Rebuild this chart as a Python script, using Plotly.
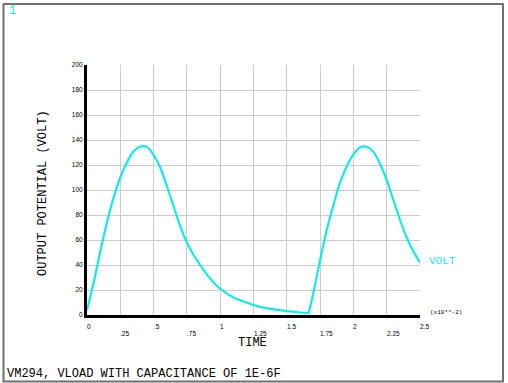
import plotly.graph_objects as go

# ---- data (time in units of 1e-2 s, output potential in volts) ----
time = [0.0, 0.05, 0.1, 0.15, 0.2, 0.25, 0.3, 0.35, 0.4, 0.45, 0.5, 0.55,
        0.6, 0.65, 0.7, 0.75, 0.8, 0.85, 0.9, 0.95, 1.0, 1.1, 1.2, 1.25, 1.3,
        1.4, 1.5, 1.6, 1.665,
        1.7, 1.75, 1.8, 1.85, 1.9, 1.95, 2.0, 2.05, 2.1, 2.15, 2.2, 2.25,
        2.3, 2.35, 2.4, 2.45, 2.5]
volt = [4, 26, 51, 74, 94, 110, 122, 131, 134.8, 134.5, 128, 118,
        103, 87, 71, 58, 48, 40, 32.5, 26, 21, 14, 10, 8, 6.5,
        4.5, 3.2, 2, 1.4,
        18, 44, 68, 88, 106, 119, 128.5, 134, 134.6, 130.5, 121, 108,
        92, 76, 62, 51, 42]

x_tick_vals = [0, 0.25, 0.5, 0.75, 1, 1.25, 1.5, 1.75, 2, 2.25, 2.5]
x_tick_text = ["0", ".25", ".5", ".75", "1", "1.25", "1.5", "1.75", "2", "2.25", "2.5"]
y_tick_vals = [0, 20, 40, 60, 80, 100, 120, 140, 160, 180, 200]

W, H = 508, 383
L, R, T, B = 87, 88, 65, 68
PW, PH = W - L - R, H - T - B

CYAN = "#14E8E8"
MONO = "Liberation Mono, Courier New, monospace"
SANS = "Liberation Sans, Arial, sans-serif"


def px_x(px):
    return (px - L) / PW


def px_y(py):
    return (H - B - py) / PH


# split at the sharp corner where the second charging cycle starts
k = time.index(1.665)
fig = go.Figure()
for xs, ys in [(time[:k + 1], volt[:k + 1]), (time[k:], volt[k:])]:
    fig.add_trace(go.Scatter(x=xs, y=ys, mode="lines",
                             line=dict(color=CYAN, width=2.2, shape="spline", smoothing=1.0),
                             showlegend=False, hoverinfo="skip"))

fig.update_xaxes(range=[0, 2.5], tickvals=x_tick_vals, showticklabels=False,
                 showgrid=True, gridcolor="#cccccc", gridwidth=1,
                 zeroline=False, showline=True, linecolor="black", linewidth=3,
                 ticks="", fixedrange=True)
fig.update_yaxes(range=[0, 200], tickvals=y_tick_vals, showgrid=True,
                 gridcolor="#cccccc", gridwidth=1, zeroline=False,
                 showline=True, linecolor="black", linewidth=3, ticks="",
                 tickfont=dict(family=SANS, size=6.5, color="black"),
                 fixedrange=True)

annotations = []
# staggered x tick labels, left-aligned at the tick
for i, (v, t) in enumerate(zip(x_tick_vals, x_tick_text)):
    ypix = 326 if i % 2 == 0 else 333
    annotations.append(dict(x=v, y=px_y(ypix), xref="x", yref="paper", text=t,
                            showarrow=False, xanchor="left", yanchor="middle",
                            xshift=-1, borderpad=0,
                            font=dict(family=SANS, size=6.5, color="black")))

annotations += [
    dict(x=px_x(252), y=px_y(343), xref="paper", yref="paper", text="TIME",
         showarrow=False, xanchor="center", yanchor="middle", borderpad=0,
         font=dict(family=MONO, size=12, color="black")),
    dict(x=px_x(43), y=px_y(193), xref="paper", yref="paper",
         text="OUTPUT POTENTIAL (VOLT)", textangle=-90, showarrow=False,
         xanchor="center", yanchor="middle",
         font=dict(family=MONO, size=12, color="black")),
    dict(x=px_x(427), y=px_y(261), xref="paper", yref="paper", text="VOLT",
         showarrow=False, xanchor="left", yanchor="middle",
         font=dict(family=MONO, size=11, color=CYAN)),
    dict(x=px_x(428), y=px_y(312), xref="paper", yref="paper", text="(x10**-2)",
         showarrow=False, xanchor="left", yanchor="middle",
         font=dict(family=MONO, size=6, color="black")),
    dict(x=px_x(7), y=px_y(11), xref="paper", yref="paper", text="1",
         showarrow=False, xanchor="left", yanchor="middle",
         font=dict(family=MONO, size=12, color=CYAN)),
    dict(x=px_x(5), y=px_y(374), xref="paper", yref="paper",
         text="VM294, VLOAD WITH CAPACITANCE OF 1E-6F", showarrow=False,
         xanchor="left", yanchor="middle",
         font=dict(family=MONO, size=12, color="black")),
]

shapes = [
    dict(type="rect", xref="paper", yref="paper",
         x0=px_x(3.5), x1=px_x(503), y0=px_y(381.5), y1=px_y(4),
         line=dict(color="#707070", width=2), fillcolor="rgba(0,0,0,0)", layer="below"),
]

fig.update_layout(width=W, height=H, margin=dict(l=L, r=R, t=T, b=B),
                  paper_bgcolor="white", plot_bgcolor="white",
                  annotations=annotations, shapes=shapes)

fig.write_html("out.html", config={"displayModeBar": False},
               post_script="document.body.style.margin='0';document.body.style.overflow='hidden';")
